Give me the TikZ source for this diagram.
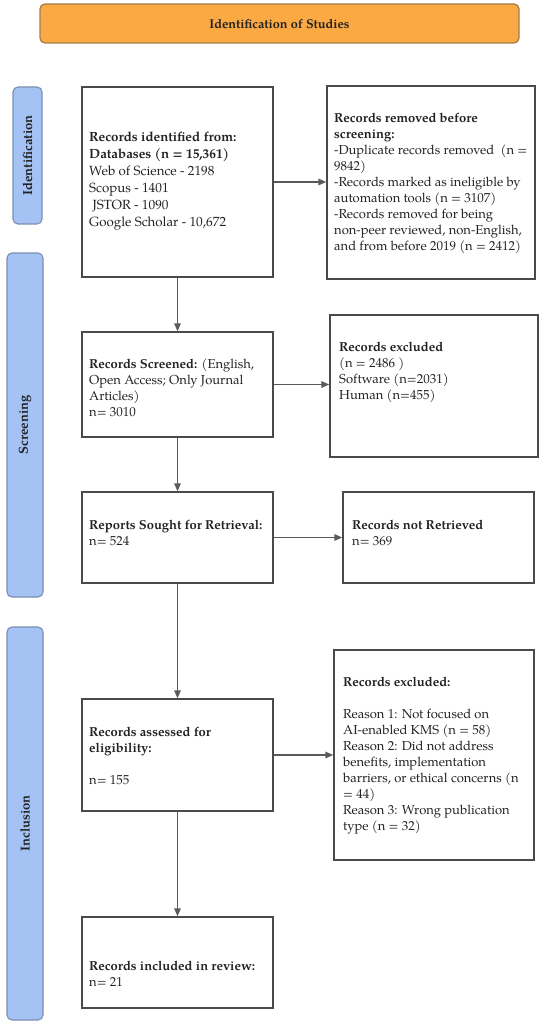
\documentclass[tikz,border=0pt]{standalone}
\usepackage{fontspec}
\setmainfont{texgyrepagella}[Extension=.otf, UprightFont=*-regular, BoldFont=*-bold, ItalicFont=*-italic, BoldItalicFont=*-bolditalic]
\usetikzlibrary{arrows.meta}
\definecolor{bannerfill}{HTML}{FBAA43}
\definecolor{bannerdraw}{HTML}{A67C45}
\definecolor{tabfill}{HTML}{A4C2F4}
\definecolor{tabdraw}{HTML}{7B8DB0}
\definecolor{boxdraw}{HTML}{4A4A4A}
\definecolor{arrdraw}{HTML}{5A5A5A}
\definecolor{txt}{HTML}{222222}
\begin{document}
\begin{tikzpicture}[x=1pt,y=-1pt,
  banner/.style={draw=bannerdraw, fill=bannerfill, line width=1.3pt, rounded corners=5pt, inner sep=0pt},
  tab/.style={draw=tabdraw, fill=tabfill, line width=1.1pt, rounded corners=5pt, inner sep=0pt},
  tablabel/.style={rotate=90, font=\fontsize{13}{16}\selectfont\bfseries, text=txt, inner sep=0pt},
  box/.style={draw=boxdraw, line width=1.4pt, inner sep=0pt},
  boxtext/.style={anchor=north west, align=left, inner sep=0pt, text=txt, font=\fontsize{13}{16}\selectfont},
  arr/.style={draw=arrdraw, line width=1.5pt, -{Triangle[length=8pt,width=6.5pt]}}]
\useasboundingbox (0,0) rectangle (550,1024);

% banner
\node[banner, minimum width=479pt, minimum height=39pt] (banner) at (279.5,23.5) {};
\node[font=\fontsize{12.7}{15}\selectfont\bfseries, text=txt, inner sep=0pt] (bannertext) at (279.5,24) {Identification of Studies};

% side tabs
\node[tab, minimum width=29pt, minimum height=137pt] (tabI) at (27.5,155.5) {};
\node[tablabel] (tabIt) at (tabI.center) {Identification};
\node[tab, minimum width=36pt, minimum height=344pt] (tabS) at (25,425) {};
\node[tablabel] (tabSt) at (tabS.center) {Screening};
\node[tab, minimum width=36pt, minimum height=393pt] (tabN) at (25,823.5) {};
\node[tablabel] (tabNt) at (tabN.center) {Inclusion};

% boxes
\node[box, minimum width=191pt, minimum height=190pt] (box1) at (177.5,182) {};
\node[box, minimum width=208pt, minimum height=193pt] (removed) at (431,182.5) {};
\node[box, minimum width=191pt, minimum height=105pt] (screened) at (177.5,384.5) {};
\node[box, minimum width=208pt, minimum height=142pt] (excl1) at (434,386) {};
\node[box, minimum width=191pt, minimum height=91pt] (reports) at (177.5,537.5) {};
\node[box, minimum width=191pt, minimum height=91pt] (notret) at (438.5,537.5) {};
\node[box, minimum width=191pt, minimum height=112pt] (assessed) at (177.5,755) {};
\node[box, minimum width=200pt, minimum height=210pt] (excl2) at (434,755) {};
\node[box, minimum width=191pt, minimum height=91pt] (included) at (177.5,962.5) {};

% texts
\node[boxtext, font=\fontsize{13.3}{17}\selectfont] (t1) at (89,132) {\textbf{Records identified from:}\\\textbf{Databases (n = 15,361)}\\Web of Science - 2198\\Scopus - 1401\\\ JSTOR - 1090\\Google Scholar - 10,672};
\node[boxtext] (t2) at (334,113) {\textbf{Records removed before}\\\textbf{screening:}\\-Duplicate records removed\ \ (n =\\9842)\\-Records marked as ineligible by\\automation tools (n = 3107)\\-Records removed for being\\non-peer reviewed, non-English,\\and from before 2019 (n = 2412)};
\node[boxtext] (t3) at (89,359) {\textbf{Records Screened:} (English,\\Open Access; Only Journal\\Articles)\\n= 3010};
\node[boxtext] (t4) at (339,342) {\textbf{Records excluded}\\(n = 2486 )\\Software (n=2031)\\Human (n=455)};
\node[boxtext] (t5) at (89,519.5) {\textbf{Reports Sought for Retrieval:}\\n= 524};
\node[boxtext] (t6) at (352,519.5) {\textbf{Records not Retrieved}\\n= 369};
\node[boxtext] (t7) at (89,726.5) {\textbf{Records assessed for}\\\textbf{eligibility:}\\[16pt]n= 155};
\node[boxtext] (t8) at (343,677) {\textbf{Records excluded:}\\[16pt]Reason 1: Not focused on\\AI-enabled KMS (n = 58)\\Reason 2: Did not address\\benefits, implementation\\barriers, or ethical concerns (n\\= 44)\\Reason 3: Wrong publication\\type (n = 32)};
\node[boxtext] (t9) at (89,960.5) {\textbf{Records included in review:}\\n= 21};

% connectors
\draw[arr] (box1.south) -- (screened.north);
\draw[arr] (screened.south) -- (reports.north);
\draw[arr] (reports.south) -- (assessed.north);
\draw[arr] (assessed.south) -- (included.north);
\draw[arr] (box1.east) -- (box1.east -| removed.west);
\draw[arr] (screened.east) -- (screened.east -| excl1.west);
\draw[arr] (reports.east) -- (reports.east -| notret.west);
\draw[arr] (assessed.east) -- (assessed.east -| excl2.west);
\end{tikzpicture}
\end{document}
